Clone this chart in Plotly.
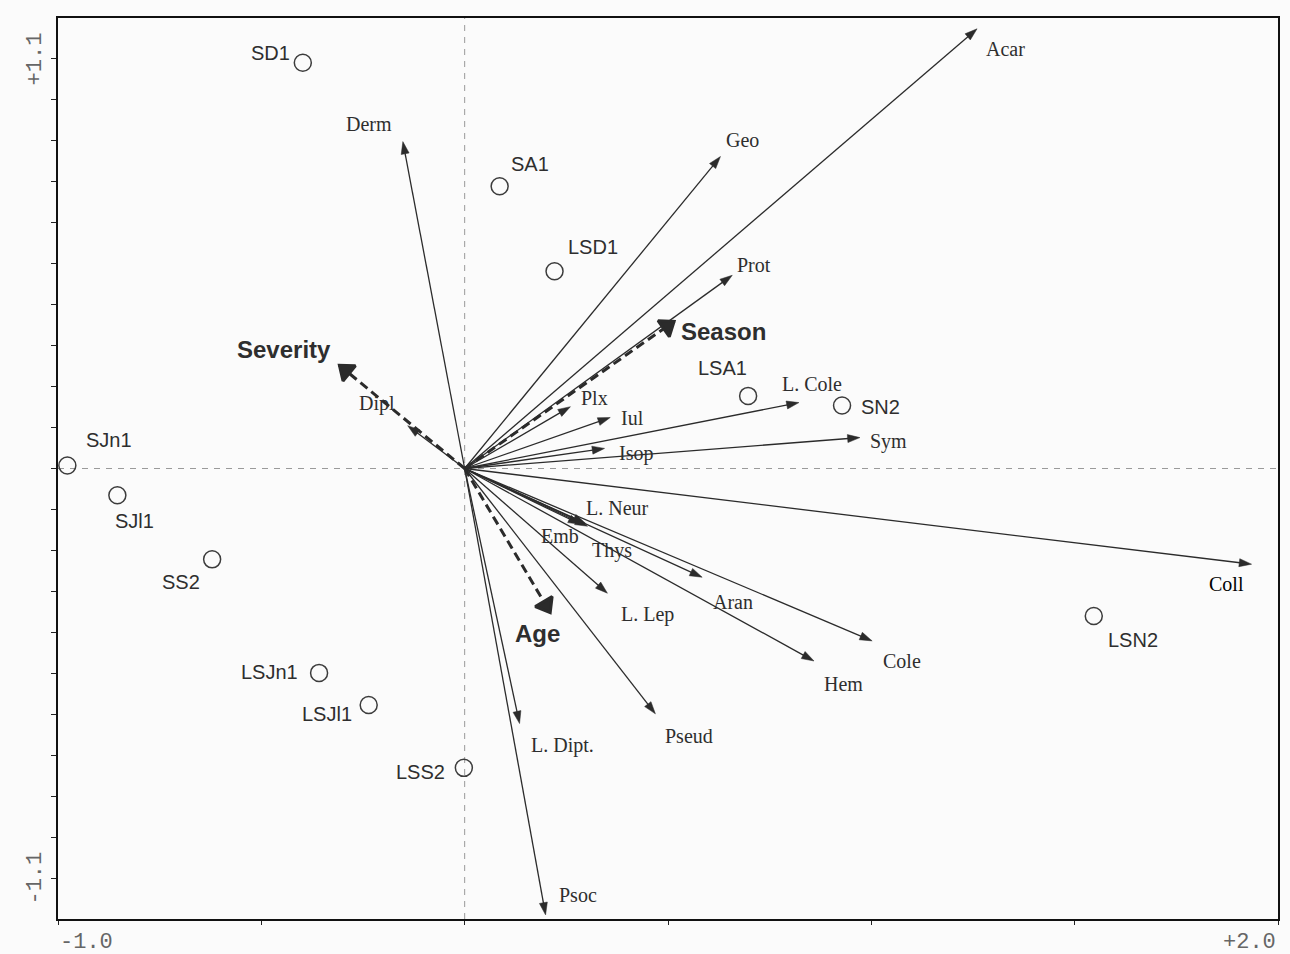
import plotly.graph_objects as go

# --- Sample scores (site ordination) ---
site_names = ["SD1", "SA1", "LSD1", "LSA1", "SN2", "SJn1", "SJl1", "SS2",
              "LSJn1", "LSJl1", "LSS2", "LSN2"]
site_x = [-0.398, 0.086, 0.221, 0.697, 0.928, -0.977, -0.854, -0.621,
          -0.358, -0.236, -0.002, 1.547]
site_y = [1.090, 0.758, 0.530, 0.195, 0.169, 0.008, -0.072, -0.244,
          -0.549, -0.635, -0.804, -0.396]

# --- Taxon scores (arrow tips) ---
taxa = ["Acar", "Geo", "Prot", "Derm", "Dipl", "Plx", "Iul", "Isop", "L. Cole",
        "Sym", "Coll", "L. Neur", "Emb", "Thys", "L. Lep", "Aran", "Hem", "Cole",
        "Pseud", "L. Dipt.", "Psoc"]
taxa_x = [1.260, 0.629, 0.658, -0.152, -0.140, 0.260, 0.358, 0.344, 0.822,
          0.972, 1.935, 0.297, 0.285, 0.302, 0.351, 0.584, 0.859, 1.002,
          0.469, 0.135, 0.199]
taxa_y = [1.181, 0.838, 0.519, 0.878, 0.115, 0.166, 0.137, 0.054, 0.177,
          0.083, -0.257, -0.147, -0.150, -0.155, -0.335, -0.292, -0.517, -0.463,
          -0.659, -0.685, -1.199]

# --- Environmental variables ---
env_names = ["Season", "Severity", "Age"]
env_x = [0.516, -0.309, 0.211]
env_y = [0.396, 0.278, -0.388]

# Label nudges in pixels (dx, dy) relative to the point or arrow tip
taxa_offsets = {
    "Acar": (28, -20), "Geo": (22, 17), "Prot": (22, 10), "Derm": (-34, 18),
    "Dipl": (-31, 22), "Plx": (24, 9), "Iul": (22, -1), "Isop": (31, -5),
    "L. Cole": (13, 19), "Sym": (29, -4), "Coll": (-25, -20),
    "L. Neur": (32, 15), "Emb": (-21, -12), "Thys": (25, -24),
    "L. Lep": (40, -21), "Aran": (31, -25), "Hem": (30, -23), "Cole": (30, -20),
    "Pseud": (34, -22), "L. Dipt.": (43, -22), "Psoc": (32, 20),
}
site_offsets = {
    "SD1": (-32, 10), "SA1": (30, 22), "LSD1": (38, 24), "LSA1": (-26, 28),
    "SN2": (38, -1), "SJn1": (42, 26), "SJl1": (17, -26), "SS2": (-31, -23),
    "LSJn1": (-50, 1), "LSJl1": (-42, -9), "LSS2": (-43, -4), "LSN2": (39, -24),
}
env_offsets = {"Season": (49, -10), "Severity": (-55, 16), "Age": (-13, -21)}

INK = "#2b2b2b"
SERIF = "Liberation Serif, Times New Roman, serif"
SANS = "Liberation Sans, Arial, sans-serif"
MONO = "Liberation Mono, Courier New, monospace"

fig = go.Figure()

# Taxon arrows
for name, tx, ty in zip(taxa, taxa_x, taxa_y):
    fig.add_trace(go.Scatter(
        x=[0, tx], y=[0, ty], mode="lines+markers",
        line=dict(color=INK, width=1.3),
        marker=dict(symbol="arrow", size=[0, 13], angleref="previous",
                    color=INK, opacity=1, line=dict(width=0.5, color=INK)),
        hoverinfo="skip", showlegend=False, cliponaxis=False,
    ))

# Environmental arrows: dashed shaft, then a solid heavy head
for name, ex, ey in zip(env_names, env_x, env_y):
    fig.add_trace(go.Scatter(
        x=[0, ex], y=[0, ey], mode="lines",
        line=dict(color=INK, width=3, dash="9px,5px"),
        hoverinfo="skip", showlegend=False,
    ))
    fig.add_trace(go.Scatter(
        x=[0, ex], y=[0, ey], mode="markers",
        marker=dict(symbol="triangle-up", size=[0, 17], angleref="previous",
                    standoff=9, color=INK, opacity=1,
                    line=dict(width=3, color=INK)),
        hoverinfo="skip", showlegend=False,
    ))

# Samples
fig.add_trace(go.Scatter(
    x=site_x, y=site_y, mode="markers",
    marker=dict(symbol="circle-open", size=17, color="#3c3c3c",
                line=dict(width=1.5)),
    hovertext=site_names, showlegend=False, cliponaxis=False,
))

annotations = []
for name, tx, ty in zip(taxa, taxa_x, taxa_y):
    dx, dy = taxa_offsets[name]
    annotations.append(dict(
        x=tx, y=ty, text=name, showarrow=False, xshift=dx, yshift=dy,
        font=dict(family=SERIF, size=20,
                  color="#000000" if name == "Coll" else "#2e2e2e"),
    ))
for name, sx, sy in zip(site_names, site_x, site_y):
    dx, dy = site_offsets[name]
    annotations.append(dict(
        x=sx, y=sy, text=name, showarrow=False, xshift=dx, yshift=dy,
        font=dict(family=SANS, size=20, color="#2e2e2e"),
    ))
for name, ex, ey in zip(env_names, env_x, env_y):
    dx, dy = env_offsets[name]
    annotations.append(dict(
        x=ex, y=ey, text="<b>%s</b>" % name, showarrow=False,
        xshift=dx, yshift=dy,
        font=dict(family=SANS, size=24, color="#2e2e2e"),
    ))

# Axis extreme labels
tick_font = dict(family=MONO, size=22, color="#666666")
annotations += [
    dict(x=-1.0, y=0, xref="x", yref="paper", text="-1.0", showarrow=False,
         xanchor="left", yanchor="top", yshift=-9, font=tick_font),
    dict(x=2.0, y=0, xref="x", yref="paper", text="+2.0", showarrow=False,
         xanchor="right", yanchor="top", yshift=-9, font=tick_font),
    dict(x=0, y=1.1, xref="paper", yref="y", text="+1.1", showarrow=False,
         textangle=-90, xanchor="right", xshift=-8, font=tick_font),
    dict(x=0, y=-1.1, xref="paper", yref="y", text="-1.1", showarrow=False,
         textangle=-90, xanchor="right", xshift=-8, font=tick_font),
]

# Dashed reference axes through the origin
shapes = [
    dict(type="line", x0=0, x1=0, y0=0, y1=1, xref="x", yref="paper",
         line=dict(color="#9a9a9a", width=1, dash="6px,6px"), layer="below"),
    dict(type="line", x0=0, x1=1, y0=0, y1=0, xref="paper", yref="y",
         line=dict(color="#9a9a9a", width=1, dash="6px,6px"), layer="below"),
]

y_ticks = [round(k * 0.11, 2) for k in range(-10, 11)]
x_ticks = [-1.0, -0.5, 0.0, 0.5, 1.0, 1.5, 2.0]

fig.update_layout(
    width=1290, height=954,
    margin=dict(l=58, r=10, t=18, b=35),
    paper_bgcolor="#fbfbfb", plot_bgcolor="#fbfbfb",
    annotations=annotations, shapes=shapes,
    xaxis=dict(range=[-1.0, 2.0], tickvals=x_ticks, showticklabels=False,
               ticks="outside", ticklen=4, tickcolor="#222222",
               showline=True, linecolor="#111111", linewidth=1.6, mirror=True,
               showgrid=False, zeroline=False),
    yaxis=dict(range=[-1.21, 1.21], tickvals=y_ticks, showticklabels=False,
               ticks="outside", ticklen=5, tickcolor="#222222",
               showline=True, linecolor="#111111", linewidth=1.6, mirror=True,
               showgrid=False, zeroline=False),
)

fig.write_html("out.html")
